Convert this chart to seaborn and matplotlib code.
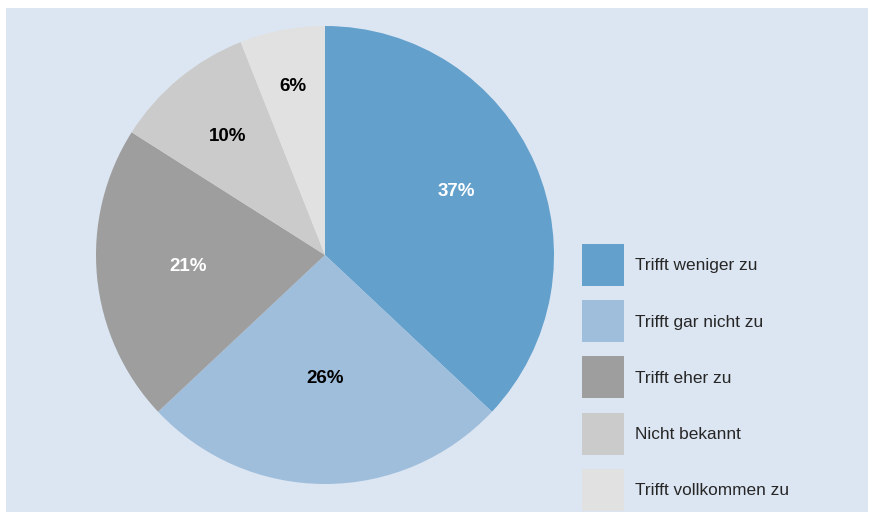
import numpy as np
import matplotlib.pyplot as plt
import seaborn as sns
from matplotlib.patches import Patch, Rectangle
from matplotlib.legend_handler import HandlerPatch

categories = ['Trifft weniger zu', 'Trifft gar nicht zu', 'Trifft eher zu',
              'Nicht bekannt', 'Trifft vollkommen zu']
shares = [37, 26, 21, 10, 6]

colors = ['#63a0cc', '#9fbedc', '#9e9e9e', '#cbcbcb', '#e1e1e1']
label_colors = ['white', 'black', 'white', 'black', 'black']
# distance from centre (fraction of radius) and angular nudge (deg) for the % labels
label_radius = [0.635, 0.54, 0.60, 0.67, 0.75]
label_nudge = [2.3, 0.0, -0.8, 0.0, 0.0]

sns.set_style('white')
plt.rcParams['font.family'] = ['Liberation Sans', 'DejaVu Sans']

fig = plt.figure(figsize=(8.73, 5.22), dpi=100, facecolor='white')

# light blue panel behind everything
fig.patches.append(Rectangle((6 / 873, 10 / 522), 862 / 873, 504 / 522,
                             transform=fig.transFigure, facecolor='#dce6f2',
                             edgecolor='none', zorder=-5))

ax = fig.add_axes([96 / 873, (522 - 484) / 522, 458 / 873, 458 / 522])
ax.set_zorder(2)
ax.set_facecolor('none')
wedges, _ = ax.pie(shares, colors=colors, startangle=90, counterclock=False,
                   radius=1, wedgeprops=dict(linewidth=0))
ax.set_xlim(-1, 1)
ax.set_ylim(-1, 1)
ax.set_aspect('equal')
ax.axis('off')

# percentage labels at the middle angle of each wedge
for w, val, col, r, d in zip(wedges, shares, label_colors, label_radius, label_nudge):
    ang = np.deg2rad((w.theta1 + w.theta2) / 2 + d)
    ax.text(r * np.cos(ang), r * np.sin(ang), f'{val}%', ha='center', va='center',
            fontsize=13.5, fontweight='bold', color=col)


# square legend swatches, centred on the label row
def square(legend, orig_handle, xdescent, ydescent, width, height, fontsize):
    cy = height / 2 - ydescent
    return Rectangle((-xdescent, cy - width / 2), width, width)


handles = [Patch(facecolor=c, edgecolor='none') for c in colors]
leg = fig.legend(handles, categories, loc='upper left',
                 bbox_to_anchor=(582 / 873, (522 - 249) / 522), frameon=False,
                 fontsize=12.4, handlelength=2.44, handleheight=2.5, labelspacing=1.39,
                 handletextpad=0.64, borderpad=0, borderaxespad=0,
                 handler_map={Patch: HandlerPatch(patch_func=square)})
leg.set_zorder(3)

fig.savefig('out.png', dpi=100, facecolor='white')
